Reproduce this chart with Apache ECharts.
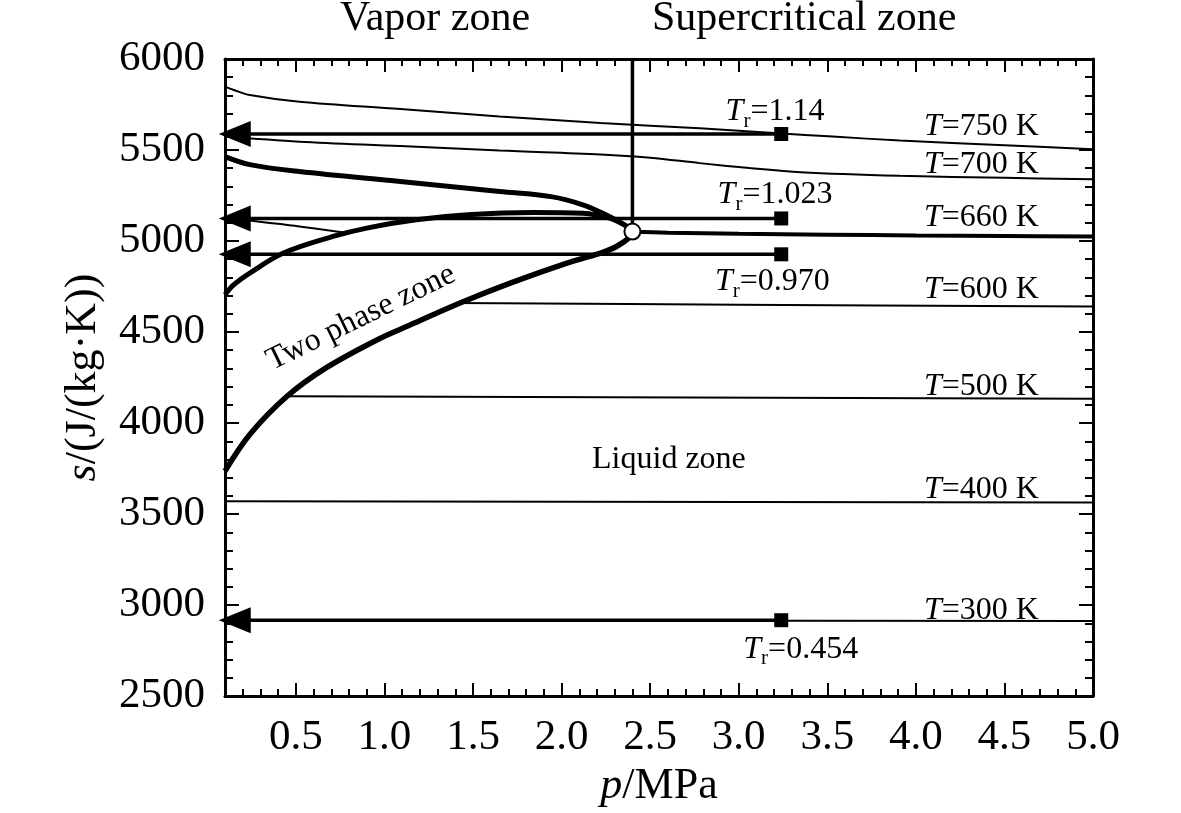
<!DOCTYPE html>
<html>
<head>
<meta charset="UTF-8">
<title>p-s diagram</title>
<script src="https://cdn.jsdelivr.net/npm/echarts@6/dist/echarts.min.js"></script>
<style>
  html, body { margin: 0; background: #fff; }
  #container { width: 1181px; height: 813px; }
</style>
</head>
<body>
<div id="container"></div>
<script>
var FONT = '"Liberation Serif", "Times New Roman", serif';

// tick values
var xMajorTicks = [0.5, 1.0, 1.5, 2.0, 2.5, 3.0, 3.5, 4.0, 4.5, 5.0];
var xMinorTicks = [];
for (var k = 2; k < 50; k++) {
  if (k % 5 !== 0) xMinorTicks.push(k / 10);
}

// isotherms  [p MPa, s J/(kg K)]
var t750 = [[0.1,5848],[0.15,5830],[0.24,5802],[0.52,5765],[1.09,5725],[1.65,5684],[2.22,5649],
            [2.78,5619],[3.22,5592],[3.53,5574],[3.91,5552],[4.5,5526],[5.0,5504]];
var t700 = [[0.1,5574],[0.52,5546],[1.09,5522],[1.65,5497],[2.22,5476],[2.5,5458],[2.78,5428],
            [3.06,5401],[3.35,5378],[3.91,5358],[4.5,5347],[5.0,5340]];
var t660Left = [[0.1,5128],[0.33,5102],[0.52,5080],[0.77,5047]];
var t660Right = [[2.4,5052],[2.6,5046],[3.0,5040],[3.5,5035],[4.0,5031],[4.5,5028],[5.0,5025]];
var t600 = [[1.40,4660],[3.0,4650],[5.0,4641]];
var t500 = [[0.45,4147],[5.0,4133]];
var t400 = [[0.1,3570],[5.0,3563]];
var t300 = [[0.1,2917],[5.0,2913]];

// saturation / boundary curves
var upperCurve = [[0.1,5464],[0.24,5420],[0.52,5382],[1.09,5327],[1.65,5272],[1.94,5244],
                  [2.12,5199],[2.27,5135],[2.37,5080],[2.4,5052]];
var middleCurve = [[0.1,4705],[0.15,4760],[0.24,4824],[0.43,4934],[0.71,5025],[0.9,5071],
                   [1.18,5117],[1.47,5144],[1.84,5157],[2.12,5153],[2.27,5126],[2.37,5080],[2.4,5052]];
var lowerCurve = [[0.1,3736],[0.24,3937],[0.45,4147],[0.67,4303],[0.96,4458],[1.15,4541],
                  [1.43,4661],[1.71,4769],[2.03,4879],[2.22,4934],[2.31,4970],[2.39,5025],[2.4,5052]];
var criticalLine = [[2.4,5052],[2.4,6000]];
var criticalPoint = [[2.4,5052]];

// reduced-temperature paths
var trNames = ['1.14', '1.023', '0.970', '0.454'];
var trLevels = [5588, 5124, 4927, 2917];
var trStartP = 0.1;
var trEndP = 3.24;
var trArrowP = 0.155;

// annotations
var annoText = [
  '{i|T}{s|r}{n|=1.14}', '{i|T}{s|r}{n|=1.023}', '{i|T}{s|r}{n|=0.970}', '{i|T}{s|r}{n|=0.454}',
  '{i|T}{n|=750 K}', '{i|T}{n|=700 K}', '{i|T}{n|=660 K}', '{i|T}{n|=600 K}',
  '{i|T}{n|=500 K}', '{i|T}{n|=400 K}', '{i|T}{n|=300 K}',
  '{n|Liquid zone}', '{n|Two phase zone}'
];
var annoP = [3.205, 3.205, 3.19, 3.35, 4.37, 4.37, 4.37, 4.37, 4.37, 4.37, 4.37, 2.606, 0.868];
var annoS = [5709, 5254, 4777, 2758, 5629, 5418, 5128, 4733, 4202, 3636, 2968, 3800, 4579];
var annoRotate = [0, 0, 0, 0, 0, 0, 0, 0, 0, 0, 0, 0, 26];

function lineSeries(data, width) {
  return {
    type: 'line', data: data, showSymbol: false, smooth: 0.35, silent: true,
    lineStyle: { color: '#000', width: width }, z: 3
  };
}

var series = [
  lineSeries(t750, 2), lineSeries(t700, 2), lineSeries(t660Left, 2), lineSeries(t660Right, 4),
  lineSeries(t600, 2), lineSeries(t500, 2), lineSeries(t400, 2), lineSeries(t300, 2),
  lineSeries(upperCurve, 5), lineSeries(middleCurve, 5), lineSeries(lowerCurve, 5.5),
  lineSeries(criticalLine, 3.5)
];
series[11].smooth = false;

trLevels.forEach(function (s) {
  var sr = lineSeries([[trStartP, s], [trEndP, s]], 3.5);
  sr.smooth = false;
  sr.z = 4;
  series.push(sr);
});

series.push({
  type: 'scatter', clip: false, silent: true, z: 5,
  symbol: 'triangle', symbolRotate: 90, symbolSize: [26, 32],
  itemStyle: { color: '#000', opacity: 1 },
  data: trLevels.map(function (s) { return [trArrowP, s]; })
});
series.push({
  type: 'scatter', clip: false, silent: true, z: 5,
  symbol: 'rect', symbolSize: 14,
  itemStyle: { color: '#000', opacity: 1 },
  data: trLevels.map(function (s) { return [trEndP, s]; })
});
series.push({
  type: 'scatter', clip: false, silent: true, z: 6,
  symbol: 'circle', symbolSize: 16,
  itemStyle: { color: '#fff', borderColor: '#000', borderWidth: 2, opacity: 1 },
  data: criticalPoint
});

var rich = {
  i: { fontFamily: FONT, fontStyle: 'italic', fontSize: 32, color: '#000', lineHeight: 40 },
  n: { fontFamily: FONT, fontSize: 32, color: '#000', lineHeight: 40 },
  s: { fontFamily: FONT, fontSize: 21, color: '#000', lineHeight: 20, verticalAlign: 'bottom' }
};
series.push({
  type: 'scatter', clip: false, silent: true, z: 7,
  symbolSize: 1, itemStyle: { color: 'rgba(0,0,0,0)', opacity: 1 },
  data: annoText.map(function (t, i) {
    return {
      value: [annoP[i], annoS[i]],
      label: { show: true, position: 'inside', formatter: t, rotate: annoRotate[i],
               color: '#000', opacity: 1, rich: rich }
    };
  })
});

function xAx(pos, ticks, len, showLine, showLabel) {
  return {
    type: 'value', position: pos, min: 0.1, max: 5.0,
    splitLine: { show: false },
    axisLine: { show: showLine, onZero: false, lineStyle: { color: '#000', width: 3 } },
    axisTick: { show: true, inside: true, length: len, customValues: ticks,
                lineStyle: { color: '#000', width: 2 } },
    axisLabel: { show: showLabel, customValues: xMajorTicks, margin: 20,
                 fontFamily: FONT, fontSize: 43, color: '#000',
                 formatter: function (v) { return v.toFixed(1); } }
  };
}

var xAxes = [
  xAx('bottom', xMajorTicks, 13, true, true),
  xAx('bottom', xMinorTicks, 7, false, false),
  xAx('top', xMajorTicks, 13, true, false),
  xAx('top', xMinorTicks, 7, false, false)
];
xAxes[0].name = '{i|p}{n|/MPa}';
xAxes[0].nameLocation = 'middle';
xAxes[0].nameGap = 62;
xAxes[0].nameTextStyle = {
  rich: {
    i: { fontFamily: FONT, fontStyle: 'italic', fontSize: 44, color: '#000' },
    n: { fontFamily: FONT, fontSize: 44, color: '#000' }
  }
};

function yAx(pos, showLabel) {
  return {
    type: 'value', position: pos, min: 2500, max: 6000, interval: 500,
    splitLine: { show: false },
    axisLine: { show: true, onZero: false, lineStyle: { color: '#000', width: 3 } },
    axisTick: { show: true, inside: true, length: 14, lineStyle: { color: '#000', width: 2 } },
    minorTick: { show: true, splitNumber: 5, length: 8, lineStyle: { color: '#000', width: 2 } },
    axisLabel: { show: showLabel, margin: 20, fontFamily: FONT, fontSize: 43, color: '#000',
                 formatter: function (v) { return String(v); } }
  };
}
var yAxes = [yAx('left', true), yAx('right', false)];
yAxes[0].name = '{i|s}{n|/(J/(kg·K))}';
yAxes[0].nameLocation = 'middle';
yAxes[0].nameRotate = 90;
yAxes[0].nameGap = 120;
yAxes[0].nameTextStyle = {
  rich: {
    i: { fontFamily: FONT, fontStyle: 'italic', fontSize: 44, color: '#000' },
    n: { fontFamily: FONT, fontSize: 44, color: '#000' }
  }
};

var myChart = echarts.init(document.getElementById('container'));
var option = {
  backgroundColor: '#fff',
  animation: false,
  grid: { left: 225, right: 88, top: 59, bottom: 116, containLabel: false },
  xAxis: xAxes,
  yAxis: yAxes,
  graphic: [
    { type: 'text', left: 340, top: -2,
      style: { text: 'Vapor zone', font: '42px ' + FONT, fill: '#000' } },
    { type: 'text', left: 652, top: -2,
      style: { text: 'Supercritical zone', font: '42px ' + FONT, fill: '#000' } }
  ],
  series: series
};
myChart.setOption(option, true);
</script>
</body>
</html>
